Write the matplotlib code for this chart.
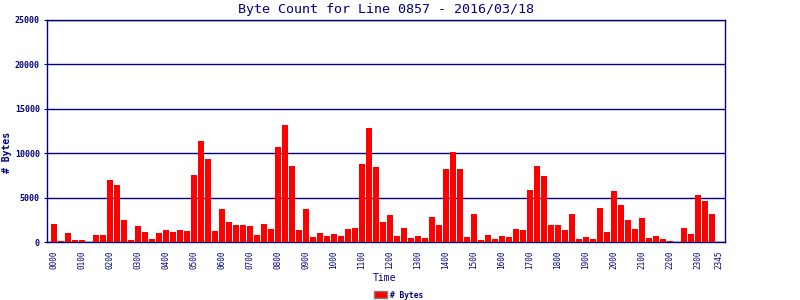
import matplotlib
matplotlib.use("Agg")
import matplotlib.pyplot as plt
from matplotlib.patches import Patch

# 15-minute slots 0000..2345
times = ["%02d%02d" % (h, m) for h in range(24) for m in (0, 15, 30, 45)]
byte_counts = [
    2050, 150, 1015, 225, 225, 0, 790, 790,
    6990, 6430, 2480, 225, 1800, 1130, 340, 1015,
    1350, 1130, 1350, 1240, 7560, 11400, 9360, 1260,
    3720, 2250, 1910, 1910, 1800, 790, 2030, 1460,
    10700, 13170, 8560, 1350, 3720, 560, 1010, 680,
    900, 680, 1460, 1580, 8780, 12840, 8450, 2250,
    3040, 680, 1580, 450, 680, 450, 2815, 1910,
    8220, 10130, 8220, 560, 3150, 225, 790, 340,
    680, 560, 1460, 1350, 5855, 8560, 7430, 1910,
    1910, 1350, 3150, 340, 560, 340, 3830, 1130,
    5740, 4170, 2480, 1460, 2700, 450, 680, 340,
    110, 0, 1580, 900, 5290, 4620, 3150, 0,
]
tick_idx = list(range(0, 96, 4)) + [95]
tick_labels = [times[i] for i in tick_idx]
y_ticks = [0, 5000, 10000, 15000, 20000, 25000]

navy = "#000080"
mono = "DejaVu Sans Mono"

fig = plt.figure(figsize=(8, 3), dpi=100)
ax = fig.add_axes([46.7 / 800, 1 - 242 / 300, (725 - 46.7) / 800, 222 / 300])

x = list(range(len(byte_counts)))
ax.bar(x, byte_counts, width=0.86, color="#FF0000", edgecolor="none", zorder=3)

ax.set_xlim(-1.04, 95.86)
ax.set_ylim(0, 25000)
ax.set_yticks(y_ticks)
ax.set_yticklabels([str(v) for v in y_ticks], fontfamily=mono, fontsize=6,
                   fontweight="bold", color=navy)
ax.set_xticks(tick_idx)
ax.set_xticklabels(tick_labels, rotation=90, fontfamily=mono, fontsize=5.5,
                   color=navy, va="top")
ax.tick_params(axis="y", length=2, width=0.8, color=navy, pad=3)
ax.tick_params(axis="x", length=0, pad=6)

ax.grid(axis="y", color=navy, linewidth=1.0, zorder=1)
ax.set_axisbelow(True)
for s in ax.spines.values():
    s.set_color(navy)
    s.set_linewidth(1.0)

fig.text(386 / 800, 1 - 9 / 300, "Byte Count for Line 0857 - 2016/03/18",
         ha="center", va="center", fontfamily=mono, fontsize=9.6, color=navy)
fig.text(384 / 800, 1 - 277.7 / 300, "Time", ha="center", va="center",
         fontfamily=mono, fontsize=7, color=navy)
fig.text(7.5 / 800, 1 - 152 / 300, "# Bytes", ha="center", va="center",
         rotation=90, fontfamily=mono, fontsize=7, fontweight="bold", color=navy)

leg = fig.legend(handles=[Patch(facecolor="#FF0000", edgecolor="gray", linewidth=1)],
                 labels=["# Bytes"], loc="center",
                 bbox_to_anchor=(399 / 800, 1 - 295 / 300), frameon=False,
                 handlelength=1.65, handleheight=1.0, handletextpad=0.4,
                 borderpad=0, borderaxespad=0,
                 prop={"family": mono, "size": 5.7, "weight": "bold"})
for t in leg.get_texts():
    t.set_color(navy)

fig.savefig("out.png", dpi=100)
